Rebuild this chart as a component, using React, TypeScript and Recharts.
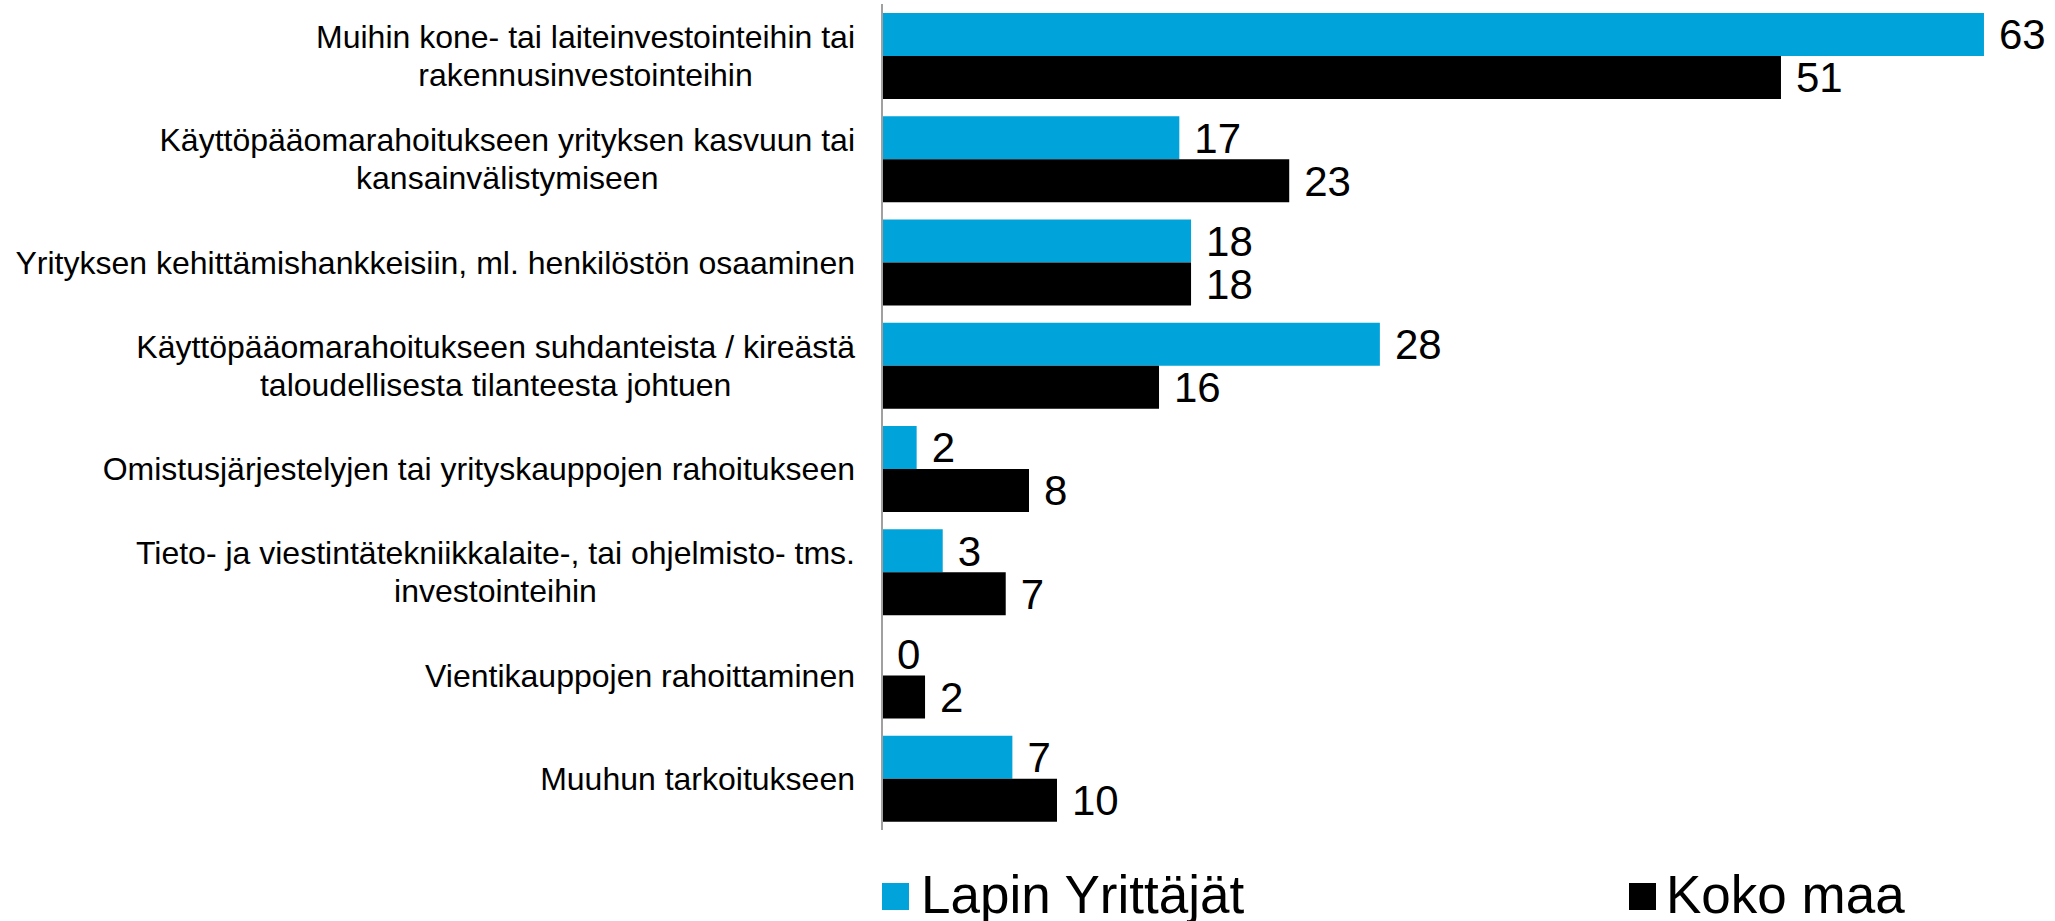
import React from 'react';
import { BarChart, Bar, XAxis, YAxis, LabelList, Legend } from 'recharts';

const categories: string[] = [
  'Muihin kone- tai laiteinvestointeihin tai\nrakennusinvestointeihin',
  'Käyttöpääomarahoitukseen yrityksen kasvuun tai\nkansainvälistymiseen',
  'Yrityksen kehittämishankkeisiin, ml. henkilöstön osaaminen',
  'Käyttöpääomarahoitukseen suhdanteista / kireästä\ntaloudellisesta tilanteesta johtuen',
  'Omistusjärjestelyjen tai yrityskauppojen rahoitukseen',
  'Tieto- ja viestintätekniikkalaite-, tai ohjelmisto- tms.\ninvestointeihin',
  'Vientikauppojen rahoittaminen',
  'Muuhun tarkoitukseen',
];
// values (labels show them rounded)
const lapinValues: number[] = [62.97, 16.99, 17.66, 28.45, 1.98, 3.47, 0, 7.45];
const kokoValues: number[] = [51.37, 23.27, 17.66, 15.83, 8.4, 7.07, 2.46, 10.0];
const seriesNames: string[] = ['Lapin Yrittäjät', 'Koko maa'];
const seriesColors: string[] = ['#00A3DA', '#000000'];

const data = categories.map((c, i) => ({ name: c, lapin: lapinValues[i], koko: kokoValues[i] }));

const FONT = "'Liberation Sans', Arial, sans-serif";

let ctx: CanvasRenderingContext2D | null = null;
const measure = (s: string, font: string): number => {
  if (!ctx) {
    const c = document.createElement('canvas');
    ctx = c.getContext('2d');
  }
  if (!ctx) return s.length * 15;
  ctx.font = font;
  return ctx.measureText(s).width;
};

const CatTick = (props: any) => {
  const { x, y, payload } = props;
  const lines: string[] = String(payload.value).split('\n');
  const fs = 32;
  const lh = 38;
  const maxW = Math.max(...lines.map((l) => measure(l, `${fs}px ${FONT}`)));
  const cx = x - maxW / 2;
  const n = lines.length;
  return (
    <g>
      {lines.map((l, i) => (
        <text
          key={i}
          x={cx}
          y={y + (i - (n - 1) / 2) * lh + 11.5}
          textAnchor="middle"
          fontSize={fs}
          fontFamily={FONT}
          fill="#000"
        >
          {l}
        </text>
      ))}
    </g>
  );
};

const LegendContent = () => (
  <svg width={2055} height={70} style={{ display: 'block', overflow: 'visible' }}>
    <rect x={882} y={32} width={27} height={27} fill={seriesColors[0]} />
    <text x={921} y={62} fontSize={53} fontFamily={FONT} fill="#000">
      {seriesNames[0]}
    </text>
    <rect x={1629} y={32} width={27} height={27} fill={seriesColors[1]} />
    <text x={1666} y={62} fontSize={53} fontFamily={FONT} fill="#000">
      {seriesNames[1]}
    </text>
  </svg>
);

const fmt = (v: any) => String(Math.round(Number(v)));

export default function App() {
  return (
    <div style={{ position: 'absolute', left: 0, top: 0, width: 2055, height: 921, background: '#fff', fontFamily: FONT }}>
      <BarChart
        width={2055}
        height={921}
        data={data}
        layout="vertical"
        margin={{ top: 4, right: 70.5, bottom: 91, left: 0 }}
        barGap={0}
      >
        <XAxis type="number" hide domain={[0, 63]} />
        <YAxis
          type="category"
          dataKey="name"
          width={882}
          tickSize={0}
          tickMargin={27}
          interval={0}
          axisLine={{ stroke: '#A0A0A0', strokeWidth: 2 }}
          tickLine={false}
          tick={<CatTick />}
        />
        <Legend
          layout="horizontal"
          verticalAlign="middle"
          align="center"
          wrapperStyle={{ top: 851, left: 0, width: 2055, height: 70 }}
          content={<LegendContent />}
        />
        <Bar dataKey="lapin" name={seriesNames[0]} fill={seriesColors[0]} barSize={43} minPointSize={0.01} isAnimationActive={false}>
          <LabelList dataKey="lapin" position="right" offset={15} fontSize={42} fontFamily={FONT} fill="#000" formatter={fmt} />
        </Bar>
        <Bar dataKey="koko" name={seriesNames[1]} fill={seriesColors[1]} barSize={43} minPointSize={0.01} isAnimationActive={false}>
          <LabelList dataKey="koko" position="right" offset={15} fontSize={42} fontFamily={FONT} fill="#000" formatter={fmt} />
        </Bar>
      </BarChart>
    </div>
  );
}
